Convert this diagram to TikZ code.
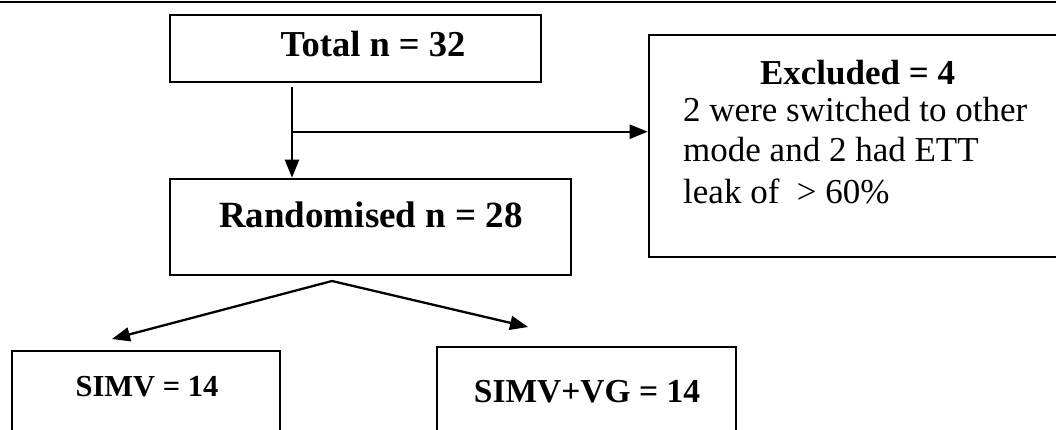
\documentclass[tikz,border=0pt]{standalone}
\usepackage{fontspec}
\setmainfont{Liberation Serif}
\usetikzlibrary{arrows.meta}
\begin{document}
\begin{tikzpicture}[x=1pt,y=-1pt,
  box/.style={draw,line width=2.6pt,inner sep=0pt,rectangle},
  conn/.style={line width=2.3pt},
  arr/.style={conn,-{Triangle[length=18pt,width=14pt]}},
  lbl/.style={inner sep=0pt,anchor=base}]
\useasboundingbox (0,0) rectangle (1056,429);
\clip (0,0) rectangle (1056,429);
% top rule
\coordinate (r1) at (0,2);
\coordinate (r2) at (1056,2);
\draw[line width=1.8pt] (r1) -- (r2);
% boxes
\node[box,minimum width=371pt,minimum height=67pt] (total) at (355.5,48.5) {};
\node[box,minimum width=401pt,minimum height=96pt] (rand) at (370.5,227) {};
\node[box,minimum width=421pt,minimum height=222pt] (excl) at (859.5,146) {};
\node[box,minimum width=268pt,minimum height=119pt] (simv) at (146,410.5) {};
\node[box,minimum width=299pt,minimum height=123pt] (vg) at (586.5,408.5) {};
% texts
\node[lbl,font=\fontsize{36.5}{40}\selectfont\bfseries] (ttotal) at (373,56) {Total n = 32};
\node[lbl,font=\fontsize{37}{40}\selectfont\bfseries] (trand) at (371,227) {Randomised n = 28};
\node[lbl,font=\fontsize{35}{40}\selectfont\bfseries] (texcl) at (857.5,84.3) {Excluded = 4};
\node[lbl,anchor=base west,font=\fontsize{35}{40}\selectfont] (e1) at (683,121.7) {2 were switched to other};
\node[lbl,anchor=base west,font=\fontsize{35}{40}\selectfont] (e2) at (683,161.7) {mode and 2 had ETT};
\node[lbl,anchor=base west,font=\fontsize{35}{40}\selectfont] (e3) at (683,203) {leak of \ > 60\%};
\node[lbl,font=\fontsize{30.5}{34}\selectfont\bfseries] (tsimv) at (147,396) {SIMV = 14};
\node[lbl,font=\fontsize{33.5}{38}\selectfont\bfseries] (tvg) at (587,402) {SIMV+VG = 14};
% connectors
\coordinate (t1) at (292,87);
\coordinate (br) at (292,131.7);
\draw[arr] (t1) -- (t1 |- rand.north);
\draw[arr] (br) -- (excl.west |- br);
\coordinate (apex) at (332,281);
\coordinate (tipl) at (112,339);
\coordinate (tipr) at (528,327);
\draw[arr] (apex) -- (tipl);
\draw[arr] (apex) -- (tipr);
\end{tikzpicture}
\end{document}
